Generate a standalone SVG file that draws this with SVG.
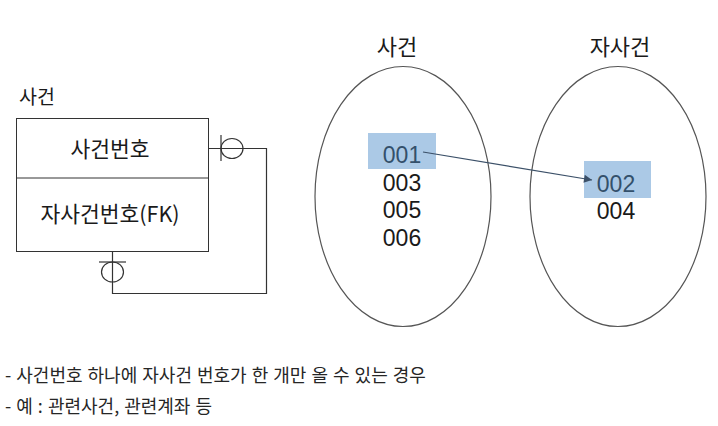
<svg xmlns="http://www.w3.org/2000/svg" width="718" height="426" viewBox="0 0 718 426">
<style>
text { font-family: "Noto Sans CJK KR", "Liberation Sans", sans-serif; fill: #1a1a1a; }
.t20 { font-size: 21.5px; }
.num { font-family: "Liberation Sans", "DejaVu Sans", sans-serif; font-size: 23px; text-anchor: middle; }
.hl { fill: #33506b; }
.box { fill: #ffffff; stroke: #333333; stroke-width: 1; }
.ell { fill: none; stroke: #555555; stroke-width: 1.2; }
.conn { fill: none; stroke: #333333; stroke-width: 1.2; }
.hlr { fill: #abc9e6; }
.note { font-size: 18px; fill: #262626; word-spacing: 1px; }
</style>
<defs>
<marker id="arr" viewBox="0 0 10 10" refX="10" refY="5" markerWidth="9" markerHeight="8" markerUnits="userSpaceOnUse" orient="auto">
<path d="M0,0 L10,5 L0,10 z" fill="#3b5068"/>
</marker>
</defs>

<g id="entity-case">
<text x="19" y="104" font-size="19.5px">사건</text>
<rect class="box" x="16.5" y="118.5" width="192" height="133"/>
<line x1="16.5" y1="178" x2="208.5" y2="178" stroke="#333333" stroke-width="1"/>
<text class="t20" x="110" y="157" text-anchor="middle">사건번호</text>
<text class="t20" x="110" y="222" text-anchor="middle">자사건번호(FK)</text>
</g>

<g id="set-case">
<text x="397" y="55" font-size="22px" text-anchor="middle">사건</text>
<ellipse class="ell" cx="403" cy="196.5" rx="88" ry="130"/>
<rect class="hlr" x="368" y="133" width="68" height="36"/>
<text class="num hl" x="402" y="163">001</text>
<text class="num" x="402" y="190.5">003</text>
<text class="num" x="402" y="218">005</text>
<text class="num" x="402" y="245.5">006</text>
</g>

<g id="set-child">
<text x="620" y="55" font-size="22px" text-anchor="middle">자사건</text>
<ellipse class="ell" cx="618" cy="196.5" rx="88" ry="130"/>
<rect class="hlr" x="584" y="161" width="67" height="37"/>
<text class="num hl" x="616" y="191.5">002</text>
<text class="num" x="616" y="219">004</text>
</g>

<g id="notes">
<text class="note" x="5" y="382">- 사건번호 하나에 자사건 번호가 한 개만 올 수 있는 경우</text>
<text class="note" x="5" y="413">- 예 : 관련사건, 관련계좌 등</text>
</g>

<g id="connectors">
<polyline class="conn" points="208.5,148.5 266.5,148.5 266.5,293.5 112.5,293.5 112.5,251.5"/>
<line class="conn" x1="221" y1="135" x2="221" y2="161"/>
<ellipse class="conn" cx="232" cy="148.5" rx="11" ry="10"/>
<line class="conn" x1="99" y1="262" x2="126" y2="262"/>
<ellipse class="conn" cx="112.5" cy="272" rx="11" ry="10"/>
<line x1="423" y1="152" x2="592" y2="180" stroke="#3b5068" stroke-width="1.2" marker-end="url(#arr)"/>
</g>
</svg>
